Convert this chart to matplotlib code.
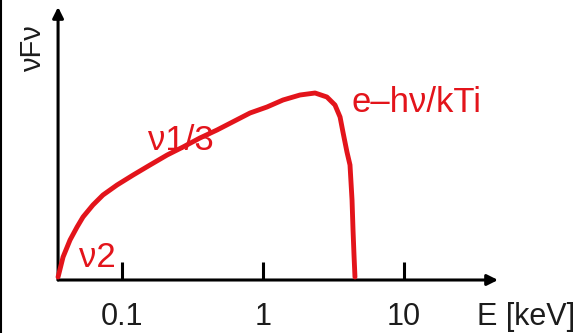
import numpy as np
import matplotlib
matplotlib.use('Agg')
import matplotlib.pyplot as plt

plt.rcParams['font.family'] = ['Liberation Sans', 'DejaVu Sans']

# spectrum shape (E in keV, vFv in arbitrary units)
energy = [0.0352, 0.0382, 0.0428, 0.0480, 0.0529, 0.0622, 0.0733, 0.0922,
          0.120, 0.158, 0.209, 0.271, 0.357, 0.472, 0.809, 1.067, 1.386,
          1.83, 2.34, 2.84, 3.24, 3.52, 3.69, 3.94, 4.14, 4.28, 4.35, 4.42, 4.49]
vfv = [3, 23, 40, 53, 63, 75, 85, 95,
       105, 115, 125, 133, 142, 150, 167, 173, 180,
       185, 187, 183, 175, 163, 148, 128, 115, 80, 50, 25, 3]

tick_vals = [0.1, 1, 10]
tick_labels = ['0.1', '1', '10']
x_label = 'E [keV]'
y_label = 'νFν'
red_labels = [('ν2', 0.0496, 13), ('ν1/3', 0.153, 130), ('e\u2013hν/kTi', 4.21, 168)]

RED = '#e3141b'
INK = '#1c1c1c'

fig = plt.figure(figsize=(5.81, 3.33), dpi=100)
ax = fig.add_axes([0, 0, 1, 1])
ax.set_xscale('log')
# 1 keV sits near x=263 px, about 141 px per decade
ax.set_xlim(10 ** (-263 / 141), 10 ** ((581 - 263) / 141))
ax.set_ylim(-53, 280)
ax.axis('off')

x0 = 0.0352
# axes with arrow heads
ax.annotate('', xy=(10 ** ((498 - 263) / 141), 0), xytext=(x0, 0),
            arrowprops=dict(arrowstyle='-|>', lw=2.2, color='black',
                            mutation_scale=16, shrinkA=0, shrinkB=0))
ax.annotate('', xy=(x0, 273), xytext=(x0, 0),
            arrowprops=dict(arrowstyle='-|>', lw=2.2, color='black',
                            mutation_scale=16, shrinkA=0, shrinkB=0))
ax.vlines(tick_vals, 0, 18, color='black', lw=2.2)

ax.plot(energy, vfv, color=RED, lw=3.5, solid_capstyle='round',
        solid_joinstyle='round', zorder=3)

for v, lab in zip(tick_vals, tick_labels):
    ax.text(v, -45, lab, ha='center', va='baseline', fontsize=22, color=INK)
ax.text(33, -45, x_label, ha='left', va='baseline', fontsize=22, color=INK)
ax.text(0.0234, 231, y_label, rotation=90, ha='center', va='center',
        fontsize=21, color=INK)

for lab, xe, yv in red_labels:
    ax.text(xe, yv, lab, ha='left', va='baseline', fontsize=25, color=RED)

# thin dark edge on the left side of the picture
fig.add_artist(plt.Line2D([0.001, 0.001], [0, 1], color='black', lw=1.5))

fig.savefig('out.png', dpi=100)
